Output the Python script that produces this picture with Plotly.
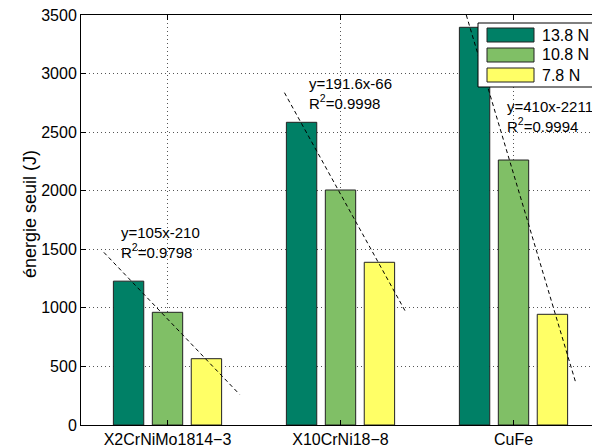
import plotly.graph_objects as go

# data
materials = ["X2CrNiMo1814\u22123", "X10CrNi18\u22128", "CuFe"]
forces = ["13.8 N", "10.8 N", "7.8 N"]
energy_by_force = {
    "13.8 N": [1228, 2584, 3395],
    "10.8 N": [962, 2006, 2262],
    "7.8 N": [566, 1389, 945],
}
colors = {"13.8 N": "#008066", "10.8 N": "#80BF66", "7.8 N": "#FFFF66"}

# trend-line end points (x in category units, y in J)
trend_x = [[0.632, 1.416], [1.676, 2.376], [2.727, 3.358]]
trend_y = [[1474, 262], [2837, 967], [3500, 370]]
fit_labels = [
    "y=105x-210<br>R<sup>2</sup>=0.9798",
    "y=191.6x-66<br>R<sup>2</sup>=0.9998",
    "y=410x-2211<br>R<sup>2</sup>=0.9994",
]
fit_label_x = [0.7225, 1.8075, 2.948]
fit_label_y = [1562, 2832, 2632]

FONT = "Liberation Sans, Arial, Helvetica, sans-serif"
positions = [1, 2, 3]

fig = go.Figure()
for name in forces:
    fig.add_trace(
        go.Bar(
            x=positions,
            y=energy_by_force[name],
            name=name,
            marker={"color": colors[name], "line": {"color": "#222222", "width": 1}},
        )
    )

for xs, ys in zip(trend_x, trend_y):
    fig.add_trace(
        go.Scatter(
            x=xs,
            y=ys,
            mode="lines",
            line={"color": "black", "width": 1, "dash": "4px,3px"},
            showlegend=False,
            hoverinfo="skip",
        )
    )

for txt, ax, ay in zip(fit_labels, fit_label_x, fit_label_y):
    fig.add_annotation(
        x=ax, y=ay, text=txt, showarrow=False, xanchor="left", yanchor="middle",
        align="left", font={"size": 15, "color": "black", "family": FONT},
    )

# legend drawn by hand so the swatches keep MATLAB's wide shape
px_w = 592 - 81
def paper_x(px):
    return (px - 81) / px_w

def paper_y(py):
    return (425 - py) / 410

fig.add_shape(
    type="rect", xref="paper", yref="paper",
    x0=paper_x(478), x1=paper_x(600), y0=paper_y(87), y1=paper_y(23),
    fillcolor="white", line={"color": "black", "width": 1}, layer="above",
)
for i, name in enumerate(forces):
    cy = 35 + 20 * i
    fig.add_shape(
        type="rect", xref="paper", yref="paper",
        x0=paper_x(487), x1=paper_x(534), y0=paper_y(cy + 7), y1=paper_y(cy - 7),
        fillcolor=colors[name], line={"color": "#222222", "width": 1}, layer="above",
    )
    fig.add_annotation(
        xref="paper", yref="paper", x=paper_x(540), y=paper_y(cy), text=name,
        showarrow=False, xanchor="left", yanchor="middle",
        font={"size": 16, "color": "black", "family": FONT},
    )

# y-axis title placed as in the reference
fig.add_annotation(
    xref="paper", yref="paper", x=paper_x(30), y=paper_y(214),
    text="énergie seuil (J)", textangle=-90, showarrow=False,
    xanchor="center", yanchor="middle",
    font={"size": 18, "color": "black", "family": FONT},
)

fig.update_layout(
    width=592,
    height=448,
    margin={"l": 81, "r": 0, "t": 15, "b": 23},
    paper_bgcolor="white",
    plot_bgcolor="white",
    barmode="group",
    bargap=0.325,
    bargroupgap=0.22,
    showlegend=False,
    font={"family": FONT, "size": 16, "color": "black"},
)
fig.update_xaxes(
    range=[0.5, 0.5 + px_w / 173],
    tickvals=positions,
    ticktext=materials,
    ticks="inside",
    ticklen=5,
    tickcolor="black",
    showline=True,
    linecolor="black",
    linewidth=1,
    mirror="ticks",
    showgrid=True,
    gridcolor="#555555",
    griddash="1px,3px",
    zeroline=False,
)
fig.update_yaxes(
    range=[0, 3500],
    dtick=500,
    ticks="inside",
    ticklen=5,
    tickcolor="black",
    showline=True,
    linecolor="black",
    linewidth=1,
    showgrid=True,
    gridcolor="#555555",
    griddash="1px,3px",
    zeroline=False,
)

fig.write_html(
    "out.html",
    config={"displayModeBar": False},
    post_script="document.body.style.margin='0';",
)
